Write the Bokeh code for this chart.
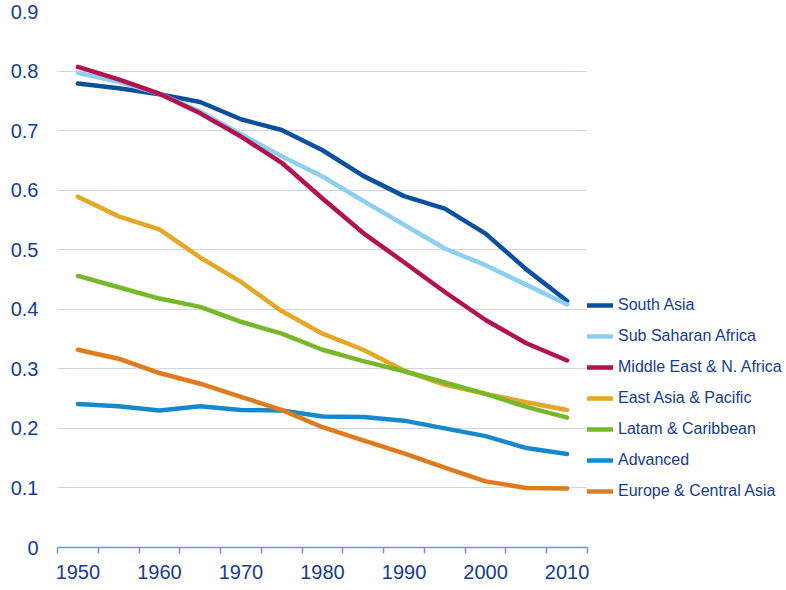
from bokeh.plotting import figure
from bokeh.models import Range1d, FixedTicker, Legend, LegendItem
from bokeh.embed import file_html
from bokeh.resources import INLINE

years = [1950, 1955, 1960, 1965, 1970, 1975, 1980, 1985, 1990, 1995, 2000, 2005, 2010]

south_asia = [0.779, 0.771, 0.761, 0.748, 0.719, 0.701, 0.667, 0.624, 0.590, 0.569, 0.527, 0.467, 0.414]
sub_saharan = [0.797, 0.782, 0.762, 0.732, 0.694, 0.657, 0.623, 0.582, 0.542, 0.502, 0.474, 0.441, 0.408]
middle_east = [0.807, 0.786, 0.762, 0.729, 0.690, 0.646, 0.586, 0.528, 0.479, 0.429, 0.382, 0.343, 0.314]
east_asia = [0.589, 0.556, 0.534, 0.487, 0.446, 0.397, 0.359, 0.332, 0.297, 0.273, 0.258, 0.244, 0.231]
latam = [0.456, 0.437, 0.418, 0.404, 0.379, 0.359, 0.332, 0.313, 0.296, 0.277, 0.258, 0.236, 0.218]
advanced = [0.241, 0.237, 0.230, 0.237, 0.231, 0.230, 0.220, 0.219, 0.213, 0.200, 0.187, 0.167, 0.157]
europe = [0.332, 0.317, 0.293, 0.275, 0.253, 0.231, 0.202, 0.180, 0.158, 0.134, 0.111, 0.100, 0.099]

series_names = ["South Asia", "Sub Saharan Africa", "Middle East & N. Africa",
                "East Asia & Pacific", "Latam & Caribbean", "Advanced",
                "Europe & Central Asia"]
series_values = [south_asia, sub_saharan, middle_east, east_asia, latam, advanced, europe]
series_colors = ["#0c4f9e", "#8ccff1", "#b3124f", "#e5a727", "#77b72a", "#1689cd", "#e07a1c"]

label_years = [1950, 1960, 1970, 1980, 1990, 2000, 2010]
boundary_years = [1947.5 + 5 * i for i in range(14)]
y_ticks = [0, 0.1, 0.2, 0.3, 0.4, 0.5, 0.6, 0.7, 0.8, 0.9]

TEXT = "#173c94"
FONT = "Liberation Sans"

p = figure(frame_width=530, frame_height=536, output_backend="svg", toolbar_location=None,
           x_range=Range1d(1947.5, 2012.5), y_range=Range1d(0, 0.9),
           min_border_left=57, min_border_top=11, min_border_bottom=42, min_border_right=0)
p.outline_line_color = None
p.background_fill_color = "white"
p.border_fill_color = "white"

items = []
for name, vals, col in zip(series_names, series_values, series_colors):
    r = p.line(years, vals, line_color=col, line_width=4.5, line_cap="round", line_join="round")
    items.append(LegendItem(label=name, renderers=[r]))

# x axis
xa = p.xaxis[0]
xa.ticker = FixedTicker(ticks=label_years, minor_ticks=boundary_years)
xa.axis_line_color = "#6b98d4"
xa.axis_line_width = 1.5
xa.major_tick_line_color = None
xa.major_tick_out = 0
xa.major_tick_in = 0
xa.minor_tick_line_color = "#6b98d4"
xa.minor_tick_line_width = 1.5
xa.minor_tick_out = 6
xa.minor_tick_in = 0
xa.major_label_text_font = FONT
xa.major_label_text_font_size = "20px"
xa.major_label_text_color = TEXT
xa.major_label_standoff = 11

# y axis
ya = p.yaxis[0]
ya.ticker = FixedTicker(ticks=y_ticks)
ya.major_label_overrides = {0: "0"}
ya.axis_line_color = None
ya.major_tick_line_color = None
ya.minor_tick_line_color = None
ya.major_tick_out = 0
ya.major_label_text_font = FONT
ya.major_label_text_font_size = "20px"
ya.major_label_text_color = TEXT
ya.major_label_standoff = 19

p.xgrid.grid_line_color = None
p.ygrid.ticker = FixedTicker(ticks=y_ticks[1:])
p.ygrid.grid_line_color = "#9ea8d0"
p.ygrid.grid_line_dash = "1 1"
p.ygrid.grid_line_width = 1

legend = Legend(items=items, location=(0, 46), orientation="vertical",
                padding=0, margin=0, spacing=11, glyph_width=26, glyph_height=20,
                label_height=20, label_standoff=5,
                label_text_font=FONT, label_text_font_size="16px", label_text_color=TEXT,
                border_line_color=None, background_fill_alpha=0)
p.add_layout(legend, "right")

open("out.html", "w").write(file_html(p, INLINE))
